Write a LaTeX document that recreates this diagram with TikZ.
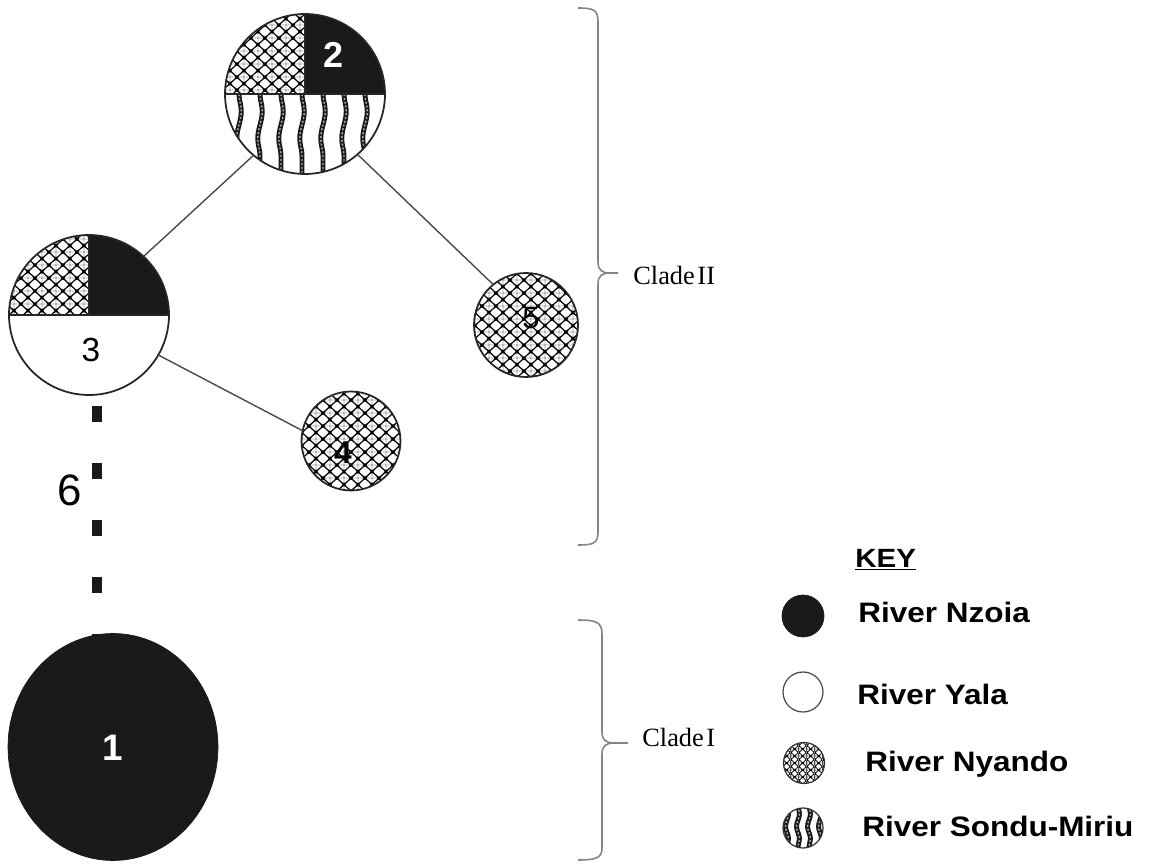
\documentclass[tikz,border=0pt]{standalone}
\usepackage{fontspec}
\setmainfont{Liberation Serif}
\newfontfamily\arialf{Liberation Sans}
\usetikzlibrary{patterns,shapes.geometric,decorations.pathmorphing}

% rounded diamond hole: centre (#1,#2), half widths #3,#4 (in pt), bow factor #5
\newcommand\dhole[5]{%
  \pgfpathmoveto{\pgfpoint{#1pt+#3pt}{#2pt}}%
  \pgfpathcurveto{\pgfpoint{#1pt+#3pt}{#2pt+#5*#4pt}}{\pgfpoint{#1pt+#5*#3pt}{#2pt+#4pt}}{\pgfpoint{#1pt}{#2pt+#4pt}}%
  \pgfpathcurveto{\pgfpoint{#1pt-#5*#3pt}{#2pt+#4pt}}{\pgfpoint{#1pt-#3pt}{#2pt+#5*#4pt}}{\pgfpoint{#1pt-#3pt}{#2pt}}%
  \pgfpathcurveto{\pgfpoint{#1pt-#3pt}{#2pt-#5*#4pt}}{\pgfpoint{#1pt-#5*#3pt}{#2pt-#4pt}}{\pgfpoint{#1pt}{#2pt-#4pt}}%
  \pgfpathcurveto{\pgfpoint{#1pt+#5*#3pt}{#2pt-#4pt}}{\pgfpoint{#1pt+#3pt}{#2pt-#5*#4pt}}{\pgfpoint{#1pt+#3pt}{#2pt}}%
  \pgfpathclose}

\pgfdeclarepatternformonly{nyandonet}{\pgfqpoint{0pt}{0pt}}{\pgfqpoint{8.2pt}{7.6pt}}{\pgfqpoint{8.2pt}{7.6pt}}{%
  \pgfseteorule
  \pgfpathrectangle{\pgfqpoint{0pt}{0pt}}{\pgfqpoint{8.2pt}{7.6pt}}%
  \dhole{0}{0}{3.3}{3.0}{0.14}%
  \dhole{8.2}{0}{3.3}{3.0}{0.14}%
  \dhole{0}{7.6}{3.3}{3.0}{0.14}%
  \dhole{8.2}{7.6}{3.3}{3.0}{0.14}%
  \dhole{4.1}{3.8}{3.3}{3.0}{0.14}%
  \pgfusepath{fill}}

\pgfdeclarepatternformonly{nyandosmall}{\pgfqpoint{0pt}{0pt}}{\pgfqpoint{4.6pt}{4.2pt}}{\pgfqpoint{4.6pt}{4.2pt}}{%
  \pgfseteorule
  \pgfpathrectangle{\pgfqpoint{0pt}{0pt}}{\pgfqpoint{4.6pt}{4.2pt}}%
  \dhole{0}{0}{1.85}{1.68}{0.12}%
  \dhole{4.6}{0}{1.85}{1.68}{0.12}%
  \dhole{0}{4.2}{1.85}{1.68}{0.12}%
  \dhole{4.6}{4.2}{1.85}{1.68}{0.12}%
  \dhole{2.3}{2.1}{1.85}{1.68}{0.12}%
  \pgfusepath{fill}}

\definecolor{nzoia}{HTML}{1C1A18}
\definecolor{edgecol}{HTML}{4A4A4A}
\definecolor{bracecol}{HTML}{858585}

\newcommand\ropeline[5]{%
  \draw[rope,decoration={snake,segment length=#4,amplitude=#5}] (#1,#2) -- (#1,#3);
  \draw[ropein,decoration={snake,segment length=#4,amplitude=#5}] (#1,#2) -- (#1,#3);}

\tikzset{
  bubble/.style={circle, draw=black!85, line width=1pt, inner sep=0pt, outer sep=0pt},
  div/.style={draw=black!85, line width=0.9pt},
  rope/.style={decorate, draw=black!90, line width=2.8pt},
  ropein/.style={decorate, draw=black!35, line width=0.8pt, dash pattern=on 1.2pt off 1pt},
  edge/.style={draw=edgecol, line width=0.8pt},
  dashedge/.style={draw=nzoia, line width=0.2cm, dash pattern=on 0.32cm off 0.82cm, dash phase=0.92cm},
  brace/.style={draw=bracecol, line width=0.9pt},
  cladetxt/.style={font=\fontsize{15pt}{16pt}\selectfont, inner sep=0pt, anchor=base west},
  keytxt/.style={font=\arialf\bfseries\fontsize{16pt}{18pt}\selectfont, inner sep=0pt, anchor=base west},
  numtxt/.style={font=\arialf\fontsize{#1}{#1}\selectfont, inner sep=0pt},
  numbold/.style={font=\arialf\bfseries\fontsize{#1}{#1}\selectfont, inner sep=0pt},
}

\begin{document}
\begin{tikzpicture}[x=0.02cm,y=0.02cm]
\useasboundingbox (0,0) rectangle (1152,-864);
\fill[white] (0,0) rectangle (1152,-864);

% node 2 (path picture coordinates relative to node centre)
\node[bubble, minimum size=3.2cm, path picture={
  \fill[pattern=nyandonet] (-82,82) rectangle (0,0);
  \fill[nzoia] (0,82) rectangle (82,0);
  \foreach \x in {-66,-45,...,80} {\ropeline{\x}{0}{-84}{1.1cm}{0.045cm}}
  \draw[div] (-82,0) -- (82,0) (0,0) -- (0,82);
}] (n2) at (305,-94) {};
\node[numbold=20.5pt, text=white] (t2) at (334,-55) {2};

% node 3
\node[bubble, minimum size=3.2cm, path picture={
  \fill[pattern=nyandonet] (-82,82) rectangle (0,0);
  \fill[nzoia] (0,82) rectangle (82,0);
  \draw[div] (-82,0) -- (82,0) (0,0) -- (0,82);
}] (n3) at (89,-315) {};
\node[numtxt=19pt] (t3) at (91,-350) {3};

% node 4
\node[bubble, minimum size=1.98cm, path picture={
  \fill[pattern=nyandonet] (-52,-52) rectangle (52,52);
}] (n4) at (351,-441) {};
\node[numbold=18pt] (t4) at (343,-453) {4};

% node 5
\node[bubble, minimum size=2.08cm, path picture={
  \fill[pattern=nyandonet] (-55,-55) rectangle (55,55);
}] (n5) at (526,-325) {};
\node[numtxt=17.5pt] (t5) at (531,-318) {5};

% node 1
\node[ellipse, draw=nzoia, fill=nzoia, minimum width=4.2cm, minimum height=4.54cm, inner sep=0pt, outer sep=0pt] (n1) at (113,-747) {};
\node[numbold=21pt, text=white] (t1) at (113,-748) {1};

% connectors
\draw[edge] (n2.230) -- (n3.47);
\draw[edge] (n2.-49) -- (n5.129);
\draw[edge] (n3.-30) -- (n4.168);
\draw[dashedge] (n3.-84) -- (n3.-84 |- n1.center);
\node[numtxt=25pt] (l6) at (70,-490) {6};

% clade brackets
\draw[brace] (578,-8) .. controls (594,-8) and (598,-10) .. (598,-22) -- (598,-262)
  .. controls (598,-270) and (602,-273) .. (610,-273) -- (618,-273);
\draw[brace] (610,-273) .. controls (602,-273) and (598,-276) .. (598,-284) -- (598,-532)
  .. controls (598,-543) and (594,-545) .. (578,-545);
\node[cladetxt] (c2) at (633,-285) {Clade\hspace{1.5pt}II};

\draw[brace] (578,-620) .. controls (596,-620) and (602,-622) .. (602,-634) -- (602,-732)
  .. controls (602,-740) and (606,-743) .. (614,-743) -- (628,-743);
\draw[brace] (614,-743) .. controls (606,-743) and (602,-746) .. (602,-754) -- (602,-848)
  .. controls (602,-858) and (596,-860) .. (578,-860);
\node[cladetxt] (c1) at (642,-746) {Clade\hspace{1.5pt}I};

% key
\node[inner sep=0pt, anchor=base west, font=\arialf\bfseries\fontsize{15pt}{17pt}\selectfont] (key) at (855,-567) {\underline{\scalebox{1.12}[1]{KEY}}};
\node[circle, draw=nzoia, fill=nzoia, minimum size=0.84cm, inner sep=0pt] (k1) at (803,-616) {};
\node[circle, draw=black!70, line width=0.7pt, minimum size=0.8cm, inner sep=0pt] (k2) at (803,-692) {};
\node[circle, draw=black!80, line width=0.7pt, minimum size=0.82cm, inner sep=0pt, path picture={
  \fill[pattern=nyandosmall] (-24,-24) rectangle (24,24);
}] (k3) at (804,-763) {};
\node[circle, draw=black!80, line width=0.7pt, minimum size=0.8cm, inner sep=0pt, path picture={
  \foreach \x in {-16,-5,6,17} {\ropeline{\x}{22}{-22}{0.5cm}{0.03cm}}
}] (k4) at (803,-828) {};
\node[keytxt] (kt1) at (858,-622) {\scalebox{1.12}[1]{River Nzoia}};
\node[keytxt] (kt2) at (857,-704) {\scalebox{1.12}[1]{River Yala}};
\node[keytxt] (kt3) at (865,-771) {\scalebox{1.12}[1]{River Nyando}};
\node[keytxt] (kt4) at (862,-836) {\scalebox{1.12}[1]{River Sondu-Miriu}};
\end{tikzpicture}
\end{document}
